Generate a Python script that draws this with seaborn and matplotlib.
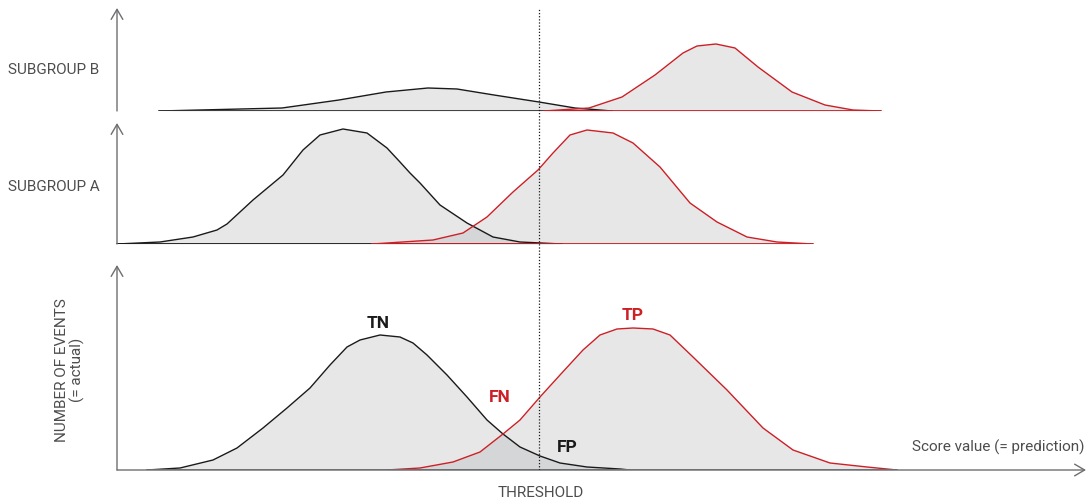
import numpy as np
import pandas as pd
import matplotlib.pyplot as plt
import seaborn as sns

# score axis (same units for all three panels), heights = number of events
threshold = 539

# overall population
all_neg_x = [147, 180, 213, 237, 263, 287, 310, 330, 347, 360, 380, 400, 413, 427, 447,
             467, 487, 503, 520, 540, 560, 587, 620, 630]
all_neg_y = [0, 2, 10, 22, 42, 62, 82, 105, 123, 130, 135, 133, 127, 115, 95,
             73, 50, 36, 23, 14, 7, 3, 1, 0]
all_pos_x = [387, 420, 453, 480, 503, 520, 540, 560, 583, 600, 617, 633, 653, 670, 693,
             727, 763, 793, 830, 867, 897]
all_pos_y = [0, 2, 8, 18, 36, 50, 73, 95, 120, 135, 141, 142, 141, 135, 113,
             80, 42, 20, 7, 3, 0]

# subgroup A
a_neg_x = [117, 160, 193, 217, 227, 253, 283, 303, 320, 343, 367, 387, 400, 410, 420,
           440, 467, 493, 520, 562]
a_neg_y = [0, 2, 7, 14, 20, 44, 69, 94, 109, 115, 111, 96, 82, 71, 61,
           39, 21, 7, 2, 0]
a_pos_x = [372, 433, 463, 487, 513, 538, 553, 570, 587, 613, 633, 660, 690, 717, 747,
           777, 813]
a_pos_y = [0, 4, 11, 27, 52, 74, 91, 109, 114, 111, 101, 77, 41, 22, 7,
           2, 0]

# subgroup B
b_neg_x = [159, 282, 339, 386, 428, 457, 494, 539, 575, 612]
b_neg_y = [0, 3, 11, 19, 23, 22, 16, 9, 3, 0]
b_pos_x = [544, 589, 622, 655, 683, 697, 716, 735, 758, 792, 825, 853, 881]
b_pos_y = [0, 3, 14, 36, 58, 65, 67, 63, 44, 19, 6, 1, 0]

W, H = 1088, 503
BLACK = '#1a1a1a'
RED = '#cc1f26'
GREY = '#6d6e71'
TXT = '#4d4d4f'
FILL = '#a7a9ac'

sns.set_theme(style='white')
plt.rcParams['font.family'] = ['Roboto', 'DejaVu Sans']

fig = plt.figure(figsize=(W / 100, H / 100), dpi=100)


def panel(base_px, top_px):
    # axes spanning the full width, baseline at base_px, 1 data unit = 1 px
    ax = fig.add_axes([0, (H - base_px) / H, 1, (base_px - top_px) / H])
    ax.set_xlim(0, W)
    ax.set_ylim(0, base_px - top_px)
    ax.axis('off')
    return ax


def draw_curve(ax, xs, ys, color, base_color=None):
    df = pd.DataFrame({'score': xs, 'events': ys})
    ax.fill_between(df['score'], 0, df['events'], color=FILL, alpha=0.27, lw=0)
    sns.lineplot(data=df, x='score', y='events', ax=ax, color=color, lw=1.0,
                 sort=False, estimator=None)
    ax.plot([xs[0], xs[-1]], [0, 0], color=base_color or color, lw=1.3)


def y_arrow(ax, height):
    ax.annotate('', xy=(117, height), xytext=(117, 0),
                arrowprops=dict(arrowstyle='->,head_length=0.6,head_width=0.35',
                                color=GREY, lw=1.0, shrinkA=0, shrinkB=0))


ax_b = panel(111, 0)
draw_curve(ax_b, b_neg_x, b_neg_y, BLACK, base_color='#333333')
draw_curve(ax_b, b_pos_x, b_pos_y, RED)
y_arrow(ax_b, 103)

ax_a = panel(244, 113)
draw_curve(ax_a, a_neg_x, a_neg_y, BLACK)
draw_curve(ax_a, a_pos_x, a_pos_y, RED)
y_arrow(ax_a, 121)

ax_all = panel(470, 250)
ax_all.annotate('', xy=(1086, 0), xytext=(117, 0),
                arrowprops=dict(arrowstyle='->,head_length=0.6,head_width=0.35',
                                color=GREY, lw=1.0, shrinkA=0, shrinkB=0))
draw_curve(ax_all, all_neg_x, all_neg_y, BLACK, base_color=GREY)
draw_curve(ax_all, all_pos_x, all_pos_y, RED, base_color=GREY)
y_arrow(ax_all, 205)

# threshold line through all panels
ax_t = fig.add_axes([0, (H - 470) / H, 1, (470 - 8) / H])
ax_t.set_xlim(0, W)
ax_t.set_ylim(0, 1)
ax_t.axis('off')
ax_t.axvline(threshold, color=BLACK, lw=0.9, ls=(0, (1, 1.5)))


# labels
def px_text(x, y, s, **kw):
    fig.text(x / W, 1 - y / H, s, **kw)


plain = dict(fontsize=11, color=TXT, fontweight='normal')
px_text(8, 70, 'SUBGROUP B', ha='left', va='center', **plain)
px_text(8, 187, 'SUBGROUP A', ha='left', va='center', **plain)
px_text(70, 370, 'NUMBER OF EVENTS\n(= actual)', ha='center', va='center',
        rotation=90, linespacing=1.1, **plain)
px_text(1085, 447, 'Score value (= prediction)', ha='right', va='center', **plain)
px_text(541, 493, 'THRESHOLD', ha='center', va='center', **plain)

bold = dict(fontsize=12.5, fontweight='bold', ha='center', va='center')
px_text(378, 323, 'TN', color=BLACK, **bold)
px_text(633, 315, 'TP', color=RED, **bold)
px_text(500, 398, 'FN', color=RED, **bold)
px_text(567, 447, 'FP', color=BLACK, **bold)

fig.savefig('out.png', dpi=100)
